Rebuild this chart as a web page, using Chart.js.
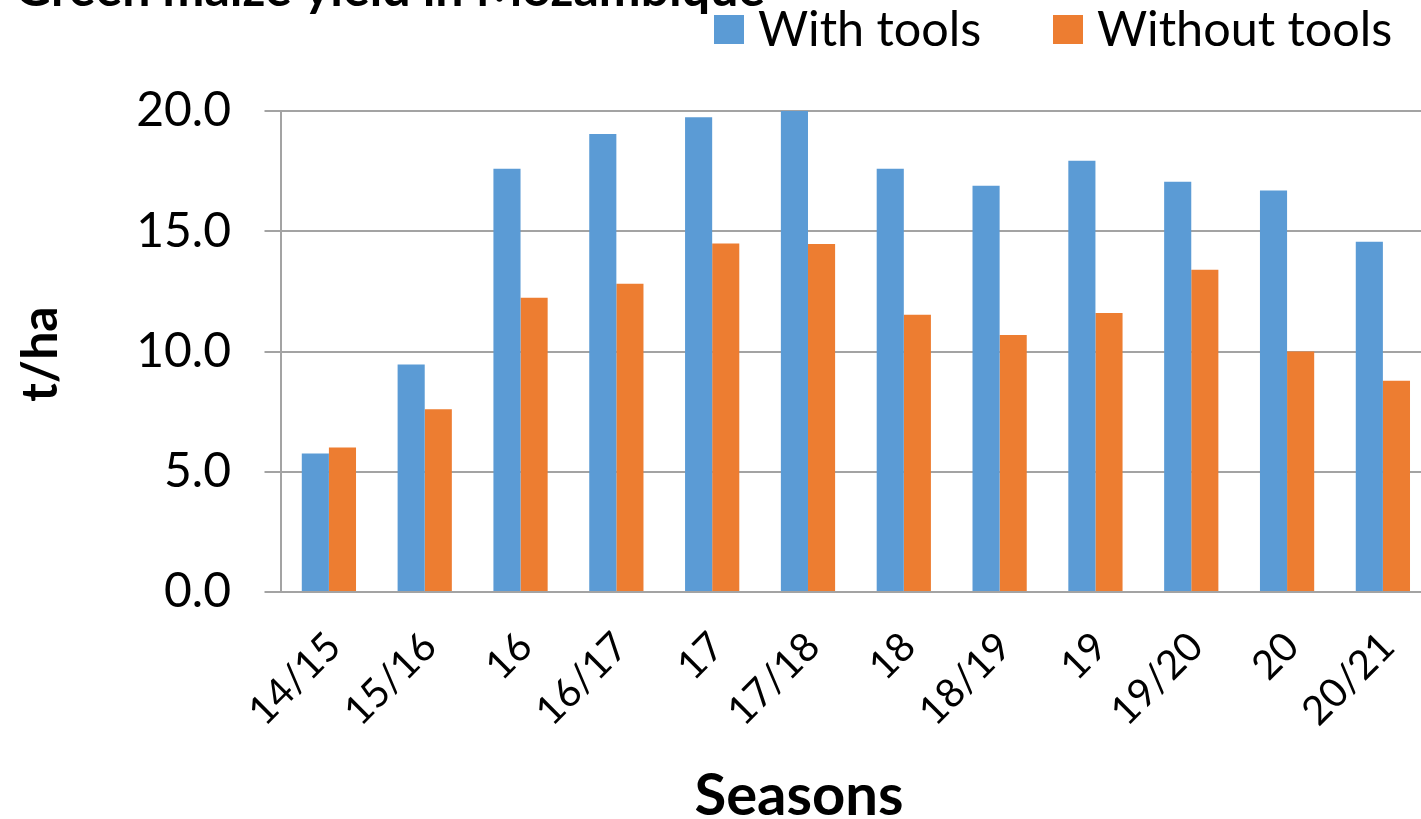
<!DOCTYPE html>
<html>
<head>
<meta charset="utf-8">
<script src="https://cdn.jsdelivr.net/npm/chart.js@4.4.1/dist/chart.umd.min.js"></script>
<style>
  html, body { margin: 0; padding: 0; background: #fff; overflow: hidden; }
  #wrap { position: relative; width: 1421px; height: 819px; overflow: hidden; }
  #wrap canvas { position: absolute; left: 0; top: 0; }
</style>
</head>
<body>
<div id="wrap"><canvas id="c" width="1440" height="819"></canvas></div>
<script>
// Green maize yield (t/ha) per season
const seasons = ['14/15', '15/16', '16', '16/17', '17', '17/18', '18', '18/19', '19', '19/20', '20', '20/21'];
const withTools = [5.76, 9.46, 17.60, 19.04, 19.74, 20.0, 17.60, 16.89, 17.93, 17.06, 16.69, 14.56];
const withoutTools = [6.01, 7.60, 12.24, 12.82, 14.49, 14.47, 11.53, 10.69, 11.60, 13.40, 10.00, 8.78];
const yTickValues = [0, 5, 10, 15, 20];

const chartTitle = 'Green maize yield in Mozambique';
const xTitle = 'Seasons';
const yTitle = 't/ha';

const BLUE = '#5B9BD5';
const ORANGE = '#ED7D31';
const GRID = '#A3A3A3';
const FONT = 'Lato, "Open Sans", sans-serif';

// Title, legend and axis titles drawn on top of the chart
const decorations = {
  id: 'decorations',
  afterDraw(chart) {
    const ctx = chart.ctx;
    ctx.save();
    ctx.fillStyle = '#000';

    // chart title (top edge of the canvas cuts through it)
    ctx.font = 'bold 50px ' + FONT;
    ctx.textAlign = 'left';
    ctx.textBaseline = 'alphabetic';
    ctx.fillText(chartTitle, 15, 6);

    // legend
    const items = [
      { box: 714, text: 758 },
      { box: 1053, text: 1097 }
    ];
    ctx.font = '48.5px ' + FONT;
    chart.data.datasets.forEach((ds, i) => {
      ctx.fillStyle = ds.backgroundColor;
      ctx.fillRect(items[i].box, 15, 30, 29);
      ctx.fillStyle = '#000';
      ctx.fillText(ds.label, items[i].text, 46);
    });

    // x axis title
    ctx.font = 'bold 58px ' + FONT;
    ctx.textAlign = 'center';
    ctx.fillText(xTitle, 799, 815);

    // y axis title
    ctx.translate(57, 354);
    ctx.rotate(-Math.PI / 2);
    ctx.font = 'bold 50px ' + FONT;
    ctx.fillText(yTitle, 0, 0);
    ctx.restore();
  }
};

new Chart(document.getElementById('c'), {
  type: 'bar',
  data: {
    labels: seasons,
    datasets: [
      { label: 'With tools', data: withTools, backgroundColor: BLUE },
      { label: 'Without tools', data: withoutTools, backgroundColor: ORANGE }
    ]
  },
  options: {
    responsive: false,
    devicePixelRatio: 1,
    animation: false,
    layout: { padding: { top: 111, right: 4, bottom: 0, left: 0 } },
    datasets: { bar: { barPercentage: 1, categoryPercentage: 0.566 } },
    plugins: {
      legend: { display: false },
      title: { display: false },
      tooltip: { enabled: false }
    },
    scales: {
      x: {
        grid: { display: false },
        border: { display: true, color: GRID, width: 2 },
        ticks: {
          autoSkip: false,
          maxRotation: 45,
          minRotation: 45,
          padding: 23,
          labelOffset: 5,
          color: '#000',
          font: { family: FONT, size: 40 }
        },
        afterFit(scale) { scale.height = 227; }
      },
      y: {
        min: 0,
        max: 20,
        grid: { color: GRID, lineWidth: 2, tickLength: 16.5 },
        border: { display: true, color: GRID, width: 2 },
        afterBuildTicks(scale) { scale.ticks = yTickValues.map(v => ({ value: v })); },
        ticks: {
          padding: 33.5,
          color: '#000',
          font: { family: FONT, size: 48 },
          callback: v => Number(v).toFixed(1)
        },
        afterFit(scale) { scale.width = 281; }
      }
    }
  },
  plugins: [decorations]
});
</script>
</body>
</html>
